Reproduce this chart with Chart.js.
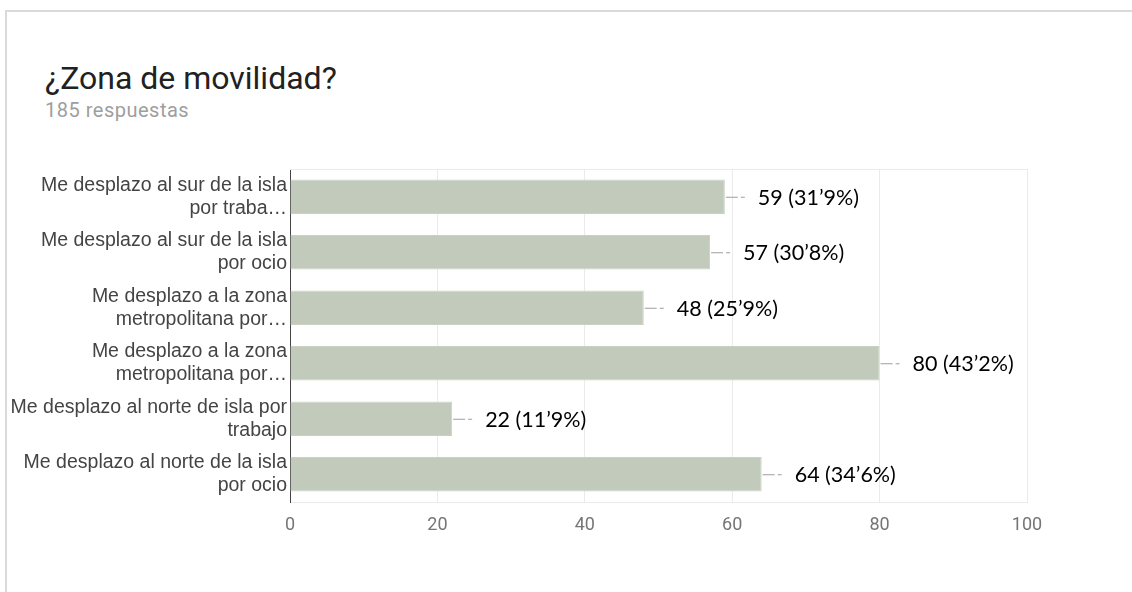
<!DOCTYPE html>
<html>
<head>
<meta charset="utf-8">
<script src="https://cdn.jsdelivr.net/npm/chart.js@4"></script>
<style>
  html, body { margin: 0; padding: 0; background: #fff; }
  body { width: 1132px; height: 592px; position: relative; overflow: hidden; }
  .card { position: absolute; left: 5px; top: 10px; right: 0; bottom: -4px;
    border-top: 2px solid #dadada; border-left: 2px solid #dadada; }
  .title { position: absolute; left: 45px; top: 62px; font: 32px/32px Roboto, sans-serif; color: #212121; white-space: nowrap; }
  .sub { position: absolute; left: 45px; top: 100px; font: 20px/20px Roboto, sans-serif; letter-spacing: 0.5px; color: #9e9e9e; white-space: nowrap; }
  #wrap { position: absolute; left: 0; top: 0; width: 1132px; height: 592px; }
</style>
</head>
<body>
<div class="card"></div>
<div class="title">¿Zona de movilidad?</div>
<div class="sub">185 respuestas</div>
<div id="wrap"><canvas id="chart" width="1132" height="592"></canvas></div>
<script>
const categories = [
  ["Me desplazo al sur de la isla", "por traba…"],
  ["Me desplazo al sur de la isla", "por ocio"],
  ["Me desplazo a la zona", "metropolitana por…"],
  ["Me desplazo a la zona", "metropolitana por…"],
  ["Me desplazo al norte de isla por", "trabajo"],
  ["Me desplazo al norte de la isla", "por ocio"]
];
const counts = [59, 57, 48, 80, 22, 64];
const percents = ["31’9%", "30’8%", "25’9%", "43’2%", "11’9%", "34’6%"];
const xTicks = [0, 20, 40, 60, 80, 100];

// leader line + "n (p%)" label at the end of each bar
const valueLabels = {
  id: "valueLabels",
  afterDatasetsDraw(chart) {
    const ctx = chart.ctx;
    const meta = chart.getDatasetMeta(0);
    ctx.save();
    meta.data.forEach((bar, i) => {
      const x = bar.x, y = bar.y;
      ctx.strokeStyle = "#9e9e9e";
      ctx.lineWidth = 1;
      ctx.beginPath();
      ctx.moveTo(x + 1, y + 0.5);
      ctx.lineTo(x + 13, y + 0.5);
      ctx.moveTo(x + 16, y + 0.5);
      ctx.lineTo(x + 20, y + 0.5);
      ctx.stroke();
      ctx.fillStyle = "#000";
      ctx.font = "21.5px Lato, sans-serif";
      ctx.textAlign = "left";
      ctx.textBaseline = "middle";
      ctx.fillText(`${counts[i]} (${percents[i]})`, x + 33, y + 1);
    });
    ctx.restore();
  }
};

// light line along the top of the plot area
const plotFrame = {
  id: "plotFrame",
  beforeDatasetsDraw(chart) {
    const { ctx, chartArea: a } = chart;
    ctx.save();
    ctx.strokeStyle = "#ebebeb";
    ctx.lineWidth = 1;
    ctx.beginPath();
    ctx.moveTo(a.left, a.top + 0.5);
    ctx.lineTo(a.right, a.top + 0.5);
    ctx.stroke();
    ctx.restore();
  }
};

new Chart(document.getElementById("chart"), {
  type: "bar",
  data: {
    labels: categories,
    datasets: [{
      data: counts,
      backgroundColor: "#c2cbbb",
      borderColor: "#c9d1c3",
      borderWidth: 1,
      categoryPercentage: 1,
      barPercentage: 0.62
    }]
  },
  options: {
    indexAxis: "y",
    responsive: false,
    animation: false,
    layout: { padding: { left: 0, right: 105, top: 169, bottom: 0 } },
    plugins: { legend: { display: false }, tooltip: { enabled: false } },
    scales: {
      x: {
        min: 0,
        max: 100,
        afterBuildTicks: (s) => { s.ticks = xTicks.map((v) => ({ value: v })); },
        afterFit: (s) => { s.height = 90; },
        grid: { color: "#ebebeb", drawTicks: false },
        border: { color: "#ebebeb" },
        ticks: { color: "#757575", font: { family: "Roboto", size: 18 }, padding: 13 }
      },
      y: {
        afterFit: (s) => { s.width = 290; },
        grid: { display: false, drawTicks: false },
        border: { color: "#444", width: 1 },
        ticks: {
          color: "#444",
          font: { family: "Liberation Sans", size: 19.5, lineHeight: 1.18 },
          padding: 3
        }
      }
    }
  },
  plugins: [plotFrame, valueLabels]
});
</script>
</body>
</html>
